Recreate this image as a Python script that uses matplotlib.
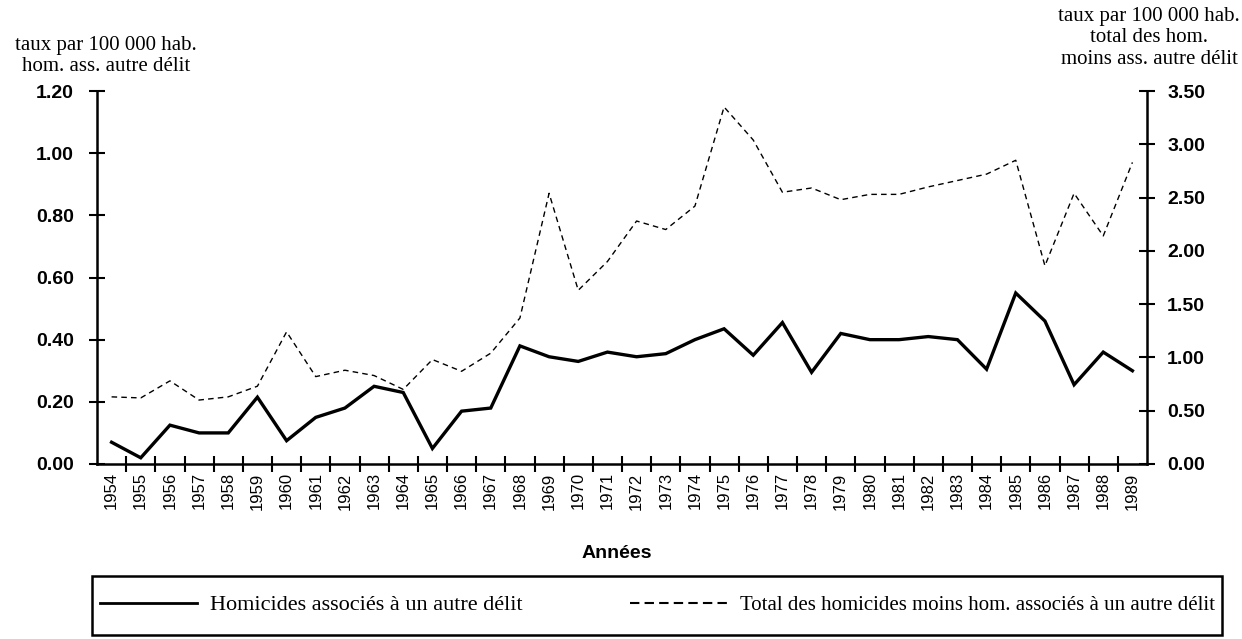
import numpy as np
import matplotlib
matplotlib.use("Agg")
import matplotlib.pyplot as plt
from matplotlib.lines import Line2D
from matplotlib.patches import Rectangle
from matplotlib.ticker import FormatStrFormatter

years = list(range(1954, 1990))
hom_assoc = [0.07, 0.02, 0.125, 0.10, 0.10, 0.215, 0.075, 0.15, 0.18, 0.25,
             0.23, 0.05, 0.17, 0.18, 0.38, 0.345, 0.33, 0.36, 0.345, 0.355,
             0.40, 0.435, 0.35, 0.455, 0.295, 0.42, 0.40, 0.40, 0.41, 0.40,
             0.305, 0.55, 0.46, 0.255, 0.36, 0.30]
hom_total_moins = [0.63, 0.62, 0.78, 0.60, 0.63, 0.73, 1.24, 0.82, 0.88, 0.83,
                   0.70, 0.98, 0.87, 1.04, 1.37, 2.54, 1.63, 1.90, 2.28, 2.20,
                   2.42, 3.35, 3.04, 2.55, 2.59, 2.48, 2.53, 2.53, 2.60, 2.66,
                   2.72, 2.85, 1.86, 2.54, 2.14, 2.83]
left_ticks = [0.0, 0.2, 0.4, 0.6, 0.8, 1.0, 1.2]
right_ticks = [0.0, 0.5, 1.0, 1.5, 2.0, 2.5, 3.0, 3.5]

serif = ["Liberation Serif", "DejaVu Serif"]
sans = ["Liberation Sans", "DejaVu Sans"]
narrow = ["Liberation Sans Narrow", "Liberation Sans", "DejaVu Sans"]

fig = plt.figure(figsize=(12.42, 6.39), dpi=100)
ax = fig.add_axes([97/1242, 1-464/639, 1050/1242, 373/639])
ax2 = ax.twinx()

x = np.arange(len(years))
ax.plot(x, hom_assoc, color="black", lw=2.4, solid_joinstyle="miter")
ax2.plot(x, hom_total_moins, color="black", lw=1.0, ls=(0, (4, 3)))

ax.set_xlim(-0.5, len(years) - 0.5)
ax.set_ylim(0, 1.2)
ax2.set_ylim(0, 3.5)

for a in (ax, ax2):
    a.spines["top"].set_visible(False)
    for s in ("left", "right", "bottom"):
        a.spines[s].set_linewidth(1.8)
ax.spines["right"].set_visible(False)
ax2.spines["left"].set_visible(False)
ax2.spines["bottom"].set_visible(False)

ax.set_xticks(np.arange(0.5, len(years) - 1, 1.0))
ax.set_xticklabels([])
ax.set_xticks(x, minor=True)
ax.set_xticklabels([str(y) for y in years], minor=True, rotation=90,
                   family=narrow, fontsize=12)
ax.tick_params(axis="x", which="major", direction="inout", length=11, width=1.5)
ax.tick_params(axis="x", which="minor", length=0, pad=6)

ax.set_yticks(left_ticks)
ax.yaxis.set_major_formatter(FormatStrFormatter("%.2f"))
ax.tick_params(axis="y", direction="inout", length=11, width=1.5, pad=11)
for lab in ax.get_yticklabels():
    lab.set_family(sans); lab.set_fontsize(14); lab.set_fontweight("bold")

ax2.set_yticks(right_ticks)
ax2.yaxis.set_major_formatter(FormatStrFormatter("%.2f"))
ax2.tick_params(axis="y", direction="inout", length=11, width=1.5, pad=9)
for lab in ax2.get_yticklabels():
    lab.set_family(sans); lab.set_fontsize(14); lab.set_fontweight("bold")

fig.text(106/1242, 1-56/639, "taux par 100 000 hab.\nhom. ass. autre délit",
         ha="center", va="center", family=serif, fontsize=15, linespacing=1.2)
fig.text(1149/1242, 1-38/639, "taux par 100 000 hab.\ntotal des hom.\nmoins ass. autre délit",
         ha="center", va="center", family=serif, fontsize=15, linespacing=1.2)
fig.text(617/1242, 1-553/639, "Années", ha="center", va="center",
         family=sans, fontsize=14, fontweight="bold")

fig.add_artist(Rectangle((92/1242, 1-635/639), 1130/1242, 59/639,
                         transform=fig.transFigure, fill=False, lw=1.8, ec="black"))

h1 = Line2D([], [], color="black", lw=2.0)
h2 = Line2D([], [], color="black", lw=1.5, ls=(0, (4.5, 2.5)))
fig.legend([h1], ["Homicides associés à un autre délit"], loc="center left",
           bbox_to_anchor=(100/1242, 1-605/639), frameon=False,
           prop={"family": serif, "size": 16}, handlelength=4.37, handletextpad=0.58,
           borderpad=0, borderaxespad=0)
fig.legend([h2], ["Total des homicides moins hom. associés à un autre délit"],
           loc="center left", bbox_to_anchor=(630/1242, 1-605/639), frameon=False,
           prop={"family": serif, "size": 15}, handlelength=4.66, handletextpad=0.62,
           borderpad=0, borderaxespad=0)

fig.savefig("out.png", dpi=100)
